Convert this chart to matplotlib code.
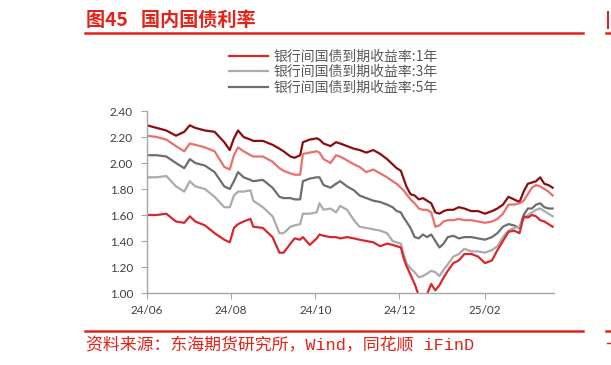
import matplotlib.pyplot as plt
import matplotlib.dates as mdates
import pandas as pd
from matplotlib.lines import Line2D

plt.rcParams['font.family'] = ['Noto Sans CJK SC', 'DejaVu Sans']

dates = pd.to_datetime([
    '2024-06-01', '2024-06-08', '2024-06-15', '2024-06-22', '2024-06-28', '2024-07-02',
    '2024-07-06', '2024-07-13', '2024-07-20', '2024-07-27', '2024-07-31', '2024-08-03',
    '2024-08-06', '2024-08-10', '2024-08-15', '2024-08-17', '2024-08-24', '2024-08-31',
    '2024-09-05', '2024-09-08', '2024-09-13', '2024-09-16', '2024-09-20', '2024-09-22',
    '2024-09-27', '2024-10-02', '2024-10-04', '2024-10-07', '2024-10-12', '2024-10-16',
    '2024-10-19', '2024-10-24', '2024-10-29', '2024-11-02', '2024-11-07', '2024-11-12',
    '2024-11-17', '2024-11-22', '2024-11-26', '2024-11-29', '2024-12-02', '2024-12-04',
    '2024-12-06', '2024-12-09', '2024-12-12', '2024-12-15', '2024-12-18', '2024-12-21',
    '2024-12-24', '2024-12-27', '2024-12-30', '2025-01-02', '2025-01-05', '2025-01-09',
    '2025-01-13', '2025-01-17', '2025-01-22', '2025-01-27', '2025-02-01', '2025-02-06',
    '2025-02-10', '2025-02-14', '2025-02-18', '2025-02-22', '2025-02-26', '2025-03-01',
    '2025-03-04', '2025-03-07', '2025-03-10', '2025-03-13', '2025-03-16', '2025-03-19',
    '2025-03-22'])

y10 = [2.29, 2.27, 2.25, 2.21, 2.24, 2.29, 2.27, 2.25, 2.24, 2.16, 2.10, 2.19,
       2.25, 2.20, 2.18, 2.17, 2.17, 2.14, 2.11, 2.09, 2.05, 2.04, 2.06, 2.16,
       2.18, 2.19, 2.18, 2.15, 2.13, 2.16, 2.15, 2.13, 2.11, 2.10, 2.08, 2.10,
       2.07, 2.03, 1.99, 1.96, 1.94, 1.88, 1.82, 1.76, 1.75, 1.72, 1.73, 1.71,
       1.69, 1.62, 1.61, 1.63, 1.64, 1.64, 1.66, 1.65, 1.63, 1.63, 1.61, 1.63,
       1.65, 1.68, 1.74, 1.72, 1.70, 1.78, 1.84, 1.85, 1.86, 1.89, 1.84, 1.83,
       1.81]
y7 = [2.21, 2.20, 2.18, 2.13, 2.09, 2.15, 2.14, 2.12, 2.09, 1.97, 1.95, 2.06,
      2.12, 2.09, 2.06, 2.05, 2.05, 2.01, 1.96, 1.94, 1.92, 1.91, 1.91, 2.07,
      2.08, 2.09, 2.08, 2.03, 2.00, 2.06, 2.05, 2.02, 1.99, 1.97, 1.93, 1.95,
      1.92, 1.89, 1.86, 1.84, 1.81, 1.79, 1.76, 1.72, 1.69, 1.65, 1.64, 1.64,
      1.62, 1.51, 1.52, 1.55, 1.56, 1.56, 1.57, 1.56, 1.56, 1.55, 1.54, 1.55,
      1.57, 1.61, 1.68, 1.68, 1.69, 1.71, 1.76, 1.81, 1.83, 1.82, 1.80, 1.78,
      1.75]
y5 = [2.06, 2.06, 2.05, 2.00, 1.96, 2.03, 2.00, 1.98, 1.93, 1.82, 1.80, 1.86,
      1.93, 1.89, 1.87, 1.86, 1.87, 1.81, 1.74, 1.73, 1.73, 1.72, 1.72, 1.86,
      1.88, 1.89, 1.89, 1.83, 1.81, 1.84, 1.86, 1.82, 1.79, 1.75, 1.73, 1.71,
      1.70, 1.68, 1.66, 1.63, 1.62, 1.58, 1.55, 1.50, 1.43, 1.42, 1.45, 1.43,
      1.45, 1.40, 1.35, 1.38, 1.43, 1.44, 1.42, 1.43, 1.43, 1.42, 1.41, 1.43,
      1.46, 1.51, 1.53, 1.52, 1.50, 1.60, 1.65, 1.65, 1.68, 1.69, 1.66, 1.65,
      1.65]
y3 = [1.89, 1.89, 1.90, 1.82, 1.78, 1.86, 1.82, 1.80, 1.74, 1.66, 1.66, 1.75,
      1.78, 1.78, 1.79, 1.71, 1.66, 1.59, 1.46, 1.46, 1.51, 1.52, 1.53, 1.61,
      1.61, 1.62, 1.69, 1.64, 1.65, 1.62, 1.67, 1.64, 1.56, 1.51, 1.50, 1.49,
      1.48, 1.46, 1.40, 1.39, 1.38, 1.30, 1.23, 1.19, 1.16, 1.12, 1.13, 1.15,
      1.17, 1.16, 1.13, 1.18, 1.22, 1.28, 1.30, 1.34, 1.32, 1.32, 1.31, 1.33,
      1.36, 1.43, 1.48, 1.50, 1.51, 1.57, 1.60, 1.62, 1.64, 1.65, 1.63, 1.61,
      1.59]
y1 = [1.60, 1.60, 1.61, 1.55, 1.54, 1.59, 1.55, 1.52, 1.46, 1.41, 1.39, 1.50,
      1.53, 1.55, 1.57, 1.51, 1.50, 1.43, 1.31, 1.31, 1.38, 1.42, 1.41, 1.43,
      1.37, 1.42, 1.45, 1.44, 1.43, 1.43, 1.42, 1.43, 1.42, 1.41, 1.40, 1.39,
      1.36, 1.38, 1.37, 1.36, 1.35, 1.27, 1.21, 1.14, 1.07, 0.98, 0.95, 0.99,
      1.07, 1.02, 1.06, 1.12, 1.17, 1.23, 1.25, 1.30, 1.30, 1.28, 1.23, 1.25,
      1.33, 1.40, 1.47, 1.48, 1.46, 1.59, 1.58, 1.60, 1.59, 1.56, 1.55, 1.53,
      1.51]

labels = ['银行间国债到期收益率:1年', '银行间国债到期收益率:3年', '银行间国债到期收益率:5年']
red = '#E2231A'

fig = plt.figure(figsize=(6.11, 3.65), dpi=100)
ax = fig.add_axes([147 / 611, 1 - 293 / 365, 407 / 611, 182 / 365])

l10, = ax.plot(dates, y10, color='#8B0E0E', lw=1.6)
l7, = ax.plot(dates, y7, color='#E8706E', lw=1.6)
l5, = ax.plot(dates, y5, color='#6E6E6E', lw=1.6)
l3, = ax.plot(dates, y3, color='#ABABAB', lw=1.6)
l1, = ax.plot(dates, y1, color='#D9282B', lw=1.6)

ax.set_ylim(1.0, 2.4)
ax.set_yticks([1.0, 1.2, 1.4, 1.6, 1.8, 2.0, 2.2, 2.4])
ax.yaxis.set_major_formatter(plt.FormatStrFormatter('%.2f'))
ax.set_xlim(dates[0], pd.Timestamp('2025-03-23'))
ax.set_xticks(pd.to_datetime(['2024-06-01', '2024-08-01', '2024-10-01', '2024-12-01', '2025-02-01']))
ax.xaxis.set_major_formatter(mdates.DateFormatter('%y/%m'))

for s in ['top', 'right']:
    ax.spines[s].set_visible(False)
for s in ['left', 'bottom']:
    ax.spines[s].set_color('#A6A6A6')
    ax.spines[s].set_linewidth(1.0)
ax.tick_params(colors='#A6A6A6', labelcolor='#404040', labelsize=8.5, length=4, direction='out')
ax.tick_params(axis='x', pad=5)
ax.tick_params(axis='y', pad=6)
for t in ax.get_xticklabels() + ax.get_yticklabels():
    t.set_family(['Lato', 'DejaVu Sans'])

fig.legend([l1, l3, l5], labels, loc='upper left', bbox_to_anchor=(222 / 611, 1 - 42.5 / 365),
           frameon=False, fontsize=10, handlelength=2.8, handletextpad=0.4,
           labelspacing=0.12, borderpad=0, labelcolor='#595959')

# title and source with red rules
fig.text(86 / 611, 1 - 20 / 365, '图45   国内国债利率', color=red, fontsize=13.8,
         fontweight='bold', va='center', ha='left')
fig.add_artist(Line2D([85 / 611, 583 / 611], [1 - 33 / 365] * 2, color=red, lw=1.8))
fig.add_artist(Line2D([85 / 611, 583 / 611], [1 - 331 / 365] * 2, color=red, lw=1.8))
fig.text(86 / 611, 1 - 345.5 / 365, '资料来源：东海期货研究所，Wind，同花顺 iFinD', color=red,
         fontsize=12.2, va='center', ha='left', family=['Liberation Mono', 'Noto Sans CJK SC'])

# edge of the neighbouring chart
fig.add_artist(Line2D([606 / 611, 1.0], [1 - 33 / 365] * 2, color=red, lw=1.8))
fig.add_artist(Line2D([606 / 611, 1.0], [1 - 331 / 365] * 2, color=red, lw=1.8))
fig.add_artist(Line2D([607.5 / 611] * 2, [1 - 12 / 365, 1 - 28 / 365], color=red, lw=1.5))
fig.add_artist(Line2D([607 / 611, 610 / 611], [1 - 343 / 365] * 2, color=red, lw=1.0))

fig.savefig('out.png', dpi=100)
